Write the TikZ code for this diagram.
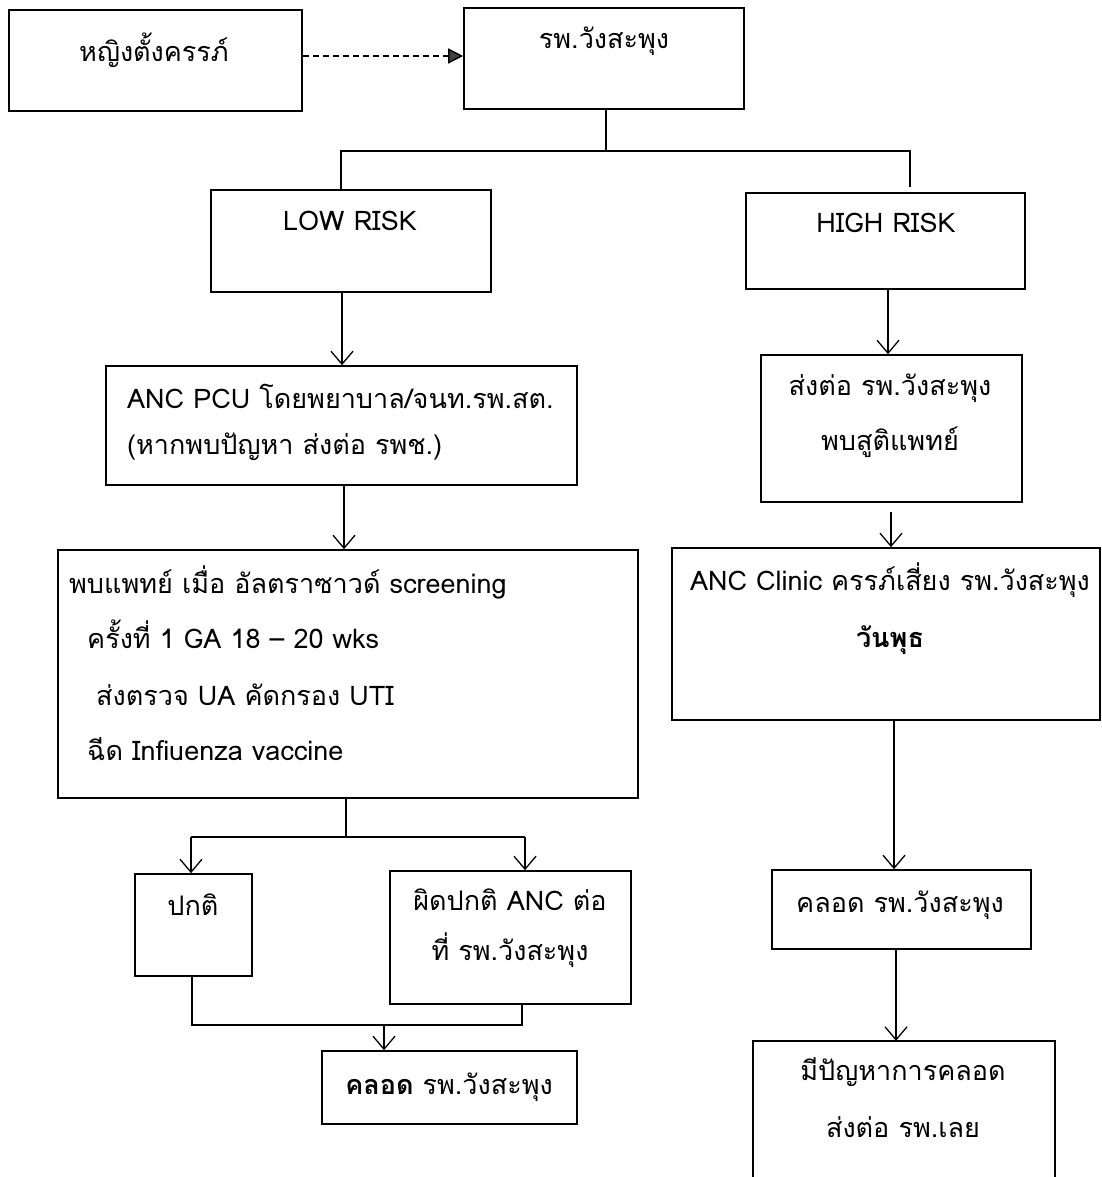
\documentclass[tikz,border=0pt]{standalone}
\usepackage{fontspec}
\setmainfont[Script=Thai]{Loma}
\usetikzlibrary{arrows.meta,calc}
\tikzset{
  box/.style={draw, line width=1.6pt, rectangle, inner sep=0pt},
  txt/.style={inner sep=0pt, font=\fontsize{27}{31}\selectfont, text height=0.72em, text depth=0.22em},
  ln/.style={line width=1.4pt},
  arr/.style={line width=1.4pt, -{Straight Barb[length=13pt,width=22pt,line width=1.3pt]}},
}
\begin{document}
\begin{tikzpicture}[x=1pt,y=-1pt]
\useasboundingbox (0,0) rectangle (1102,1177);
% boxes
\node[box, minimum width=293pt, minimum height=101pt] (b1) at (155.5,60.5) {};
\node[box, minimum width=280pt, minimum height=101pt] (b2) at (604,58.5) {};
\node[box, minimum width=280pt, minimum height=102pt] (low) at (351,241) {};
\node[box, minimum width=279pt, minimum height=96pt] (high) at (885.5,241) {};
\node[box, minimum width=471pt, minimum height=119pt] (pcu) at (341.5,425.5) {};
\node[box, minimum width=580pt, minimum height=248pt] (big) at (348,674) {};
\node[box, minimum width=261pt, minimum height=147pt] (refer) at (891.5,428.5) {};
\node[box, minimum width=428pt, minimum height=172pt] (clinic) at (886,634) {};
\node[box, minimum width=117pt, minimum height=102pt] (normal) at (193.5,925) {};
\node[box, minimum width=241pt, minimum height=133pt] (abn) at (510.5,937.5) {};
\node[box, minimum width=255pt, minimum height=73pt] (del1) at (449.5,1087.5) {};
\node[box, minimum width=259pt, minimum height=79pt] (del2) at (901.5,909.5) {};
\node[inner sep=0pt, minimum width=302pt, minimum height=140pt] (last) at (904,1111) {};
\draw[line width=1.6pt] (last.south west) -- (last.north west) -- (last.north east) -- (last.south east);
% texts
\node[txt] (t1) at (154,59) {หญิงตั้งครรภ์};
\node[txt] (t2) at (604,46) {รพ.วังสะพุง};
\node[txt] (tlow) at (350,228) {LOW RISK};
\node[txt] (thigh) at (886,230) {HIGH RISK};
\node[txt, anchor=west] (tpcua) at (127,406) {ANC PCU โดยพยาบาล/จนท.รพ.สต.};
\node[txt, anchor=west] (tpcub) at (127,452) {(หากพบปัญหา ส่งต่อ รพช.)};
\node[txt, anchor=west] (tbiga) at (69,591) {พบแพทย์ เมื่อ อัลตราซาวด์ screening};
\node[txt, anchor=west] (tbigb) at (87,646) {ครั้งที่ 1 GA 18 – 20 wks};
\node[txt, anchor=west] (tbigc) at (96,703) {ส่งตรวจ UA คัดกรอง UTI};
\node[txt, anchor=west] (tbigd) at (87,758) {ฉีด Infiuenza vaccine};
\node[txt] (trefa) at (890,393) {ส่งต่อ รพ.วังสะพุง};
\node[txt] (trefb) at (890,448) {พบสูติแพทย์};
\node[txt] (tclina) at (890,588) {ANC Clinic ครรภ์เสี่ยง รพ.วังสะพุง};
\node[txt] (tclinb) at (890,645) {\bfseries วันพุธ};
\node[txt] (tnorm) at (193,913) {ปกติ};
\node[txt] (tabna) at (510,908) {ผิดปกติ ANC ต่อ};
\node[txt] (tabnb) at (510,958) {ที่ รพ.วังสะพุง};
\node[txt] (tdel1) at (449,1092) {\textbf{คลอด} รพ.วังสะพุง};
\node[txt] (tdel2) at (900,910) {คลอด รพ.วังสะพุง};
\node[txt] (tlasta) at (903,1078) {มีปัญหาการคลอด};
\node[txt] (tlastb) at (903,1135) {ส่งต่อ รพ.เลย};
% connectors
\draw[ln, dash pattern=on 6pt off 4pt, -{Triangle[length=15pt,width=15pt,fill=black!75]}] (b1.east |- 0,56) -- (b2.west |- 0,56);
\coordinate (s1) at (606,151);
\draw[ln] (b2.south -| s1) -- (s1);
\draw[ln] (low.north -| 341,0) |- (s1) -| (910,187);
\draw[arr] (low.south -| 342,0) -- (pcu.north -| 342,0);
\draw[arr] (pcu.south -| 344,0) -- (big.north -| 344,0);
\coordinate (s2) at (346,837);
\draw[ln] (big.south -| s2) -- (s2);
\draw[ln] (191,837) -- (525,837);
\draw[arr] (191,837) -- (normal.north -| 191,0);
\draw[arr] (525,837) -- (abn.north -| 525,0);
\coordinate (j1) at (384,1025);
\draw[ln] (normal.south -| 192,0) |- (j1) -| (abn.south -| 522,0);
\draw[arr] (j1) -- (del1.north -| j1);
\draw[arr] (high.south -| 888,0) -- (refer.north -| 888,0);
\draw[arr, shorten <=9pt] (refer.south -| 891,0) -- (clinic.north -| 891,0);
\draw[arr] (clinic.south -| 894,0) -- (del2.north -| 894,0);
\draw[arr] (del2.south -| 896,0) -- (last.north -| 896,0);
\end{tikzpicture}
\end{document}
